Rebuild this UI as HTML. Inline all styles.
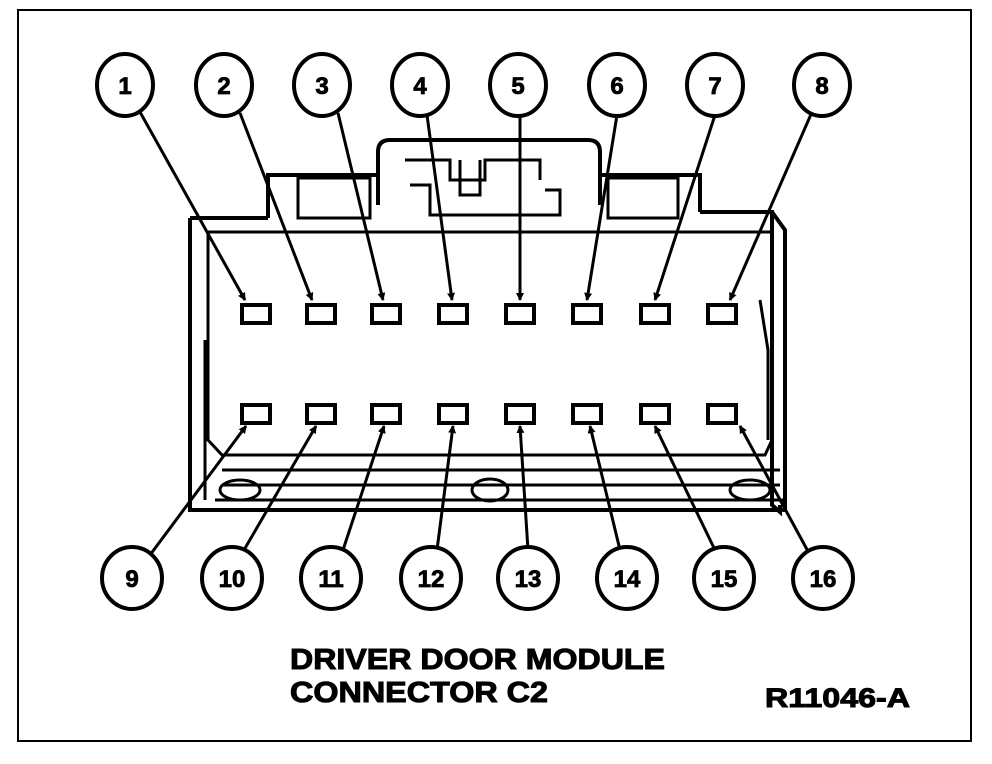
<!DOCTYPE html>
<html><head><meta charset="utf-8"><style>
html,body{margin:0;padding:0;background:#fff;}
svg{display:block;}
text{font-family:"Liberation Sans",Arial,sans-serif;font-weight:bold;fill:#000;}
</style></head><body>
<svg width="992" height="764" viewBox="0 0 992 764" xmlns="http://www.w3.org/2000/svg">
<defs><marker id="a" markerWidth="8" markerHeight="8" refX="7" refY="4" orient="auto" markerUnits="userSpaceOnUse"><path d="M0,0 L8,4 L0,8 z" fill="#000"/></marker></defs>
<rect x="18" y="10" width="953" height="731" fill="none" stroke="#000" stroke-width="2"/>
<g fill="none" stroke="#000" stroke-width="4">
<path d="M378,205 V152 Q378,140 390,140 H588 Q600,140 600,152 V205"/>
<path d="M268,218 V175 H378 M600,175 H700 V212"/>
<rect x="298" y="178" width="72" height="40" stroke-width="3"/>
<rect x="608" y="178" width="70" height="40" stroke-width="3"/>
<path d="M405,160 H450 V180 H485 V160 H540 V180" stroke-width="3"/>
<path d="M460,160 V195 H480 V160" stroke-width="3"/>
<path d="M410,185 H430 V215 H560 V190 H545" stroke-width="3"/>
<path d="M190,218 H268 M700,212 H772 V505 L780,512 V505"/>
<path d="M190,218 V510 H785 V230 L772,212"/>
<path d="M208,232 H770" stroke-width="3"/>
<path d="M208,232 V440 L222,455 H765 L772,440 V232" stroke-width="3"/>
<path d="M205,340 V500 M760,300 L768,350 V440" stroke-width="3"/>
<path d="M222,470 H780 M222,485 H780 M215,500 H785" stroke-width="3"/>
<ellipse cx="240" cy="490" rx="20" ry="10" stroke-width="3"/>
<ellipse cx="490" cy="490" rx="18" ry="11" stroke-width="3"/>
<ellipse cx="750" cy="490" rx="20" ry="10" stroke-width="3"/>
</g>
<g fill="#fff" stroke="#000" stroke-width="4">
<rect x="242" y="305" width="28" height="18"/><rect x="307" y="305" width="28" height="18"/>
<rect x="372" y="305" width="28" height="18"/><rect x="439" y="305" width="28" height="18"/>
<rect x="506" y="305" width="28" height="18"/><rect x="573" y="305" width="28" height="18"/>
<rect x="641" y="305" width="28" height="18"/><rect x="708" y="305" width="28" height="18"/>
<rect x="242" y="405" width="28" height="18"/><rect x="307" y="405" width="28" height="18"/>
<rect x="372" y="405" width="28" height="18"/><rect x="439" y="405" width="28" height="18"/>
<rect x="506" y="405" width="28" height="18"/><rect x="573" y="405" width="28" height="18"/>
<rect x="641" y="405" width="28" height="18"/><rect x="708" y="405" width="28" height="18"/>
</g>
<g stroke="#000" stroke-width="3" marker-end="url(#a)">
<line x1="140" y1="112" x2="245" y2="300"/>
<line x1="240" y1="113" x2="312" y2="300"/>
<line x1="338" y1="113" x2="383" y2="300"/>
<line x1="427" y1="115" x2="452" y2="300"/>
<line x1="520" y1="115" x2="520" y2="300"/>
<line x1="617" y1="115" x2="587" y2="300"/>
<line x1="715" y1="115" x2="655" y2="300"/>
<line x1="812" y1="112" x2="730" y2="300"/>
<line x1="150" y1="555" x2="246" y2="426"/>
<line x1="244" y1="550" x2="316" y2="426"/>
<line x1="343" y1="550" x2="384" y2="426"/>
<line x1="437" y1="550" x2="453" y2="426"/>
<line x1="528" y1="550" x2="520" y2="426"/>
<line x1="620" y1="550" x2="590" y2="426"/>
<line x1="715" y1="550" x2="655" y2="426"/>
<line x1="810" y1="555" x2="740" y2="426"/>
</g>
<g fill="#fff" stroke="#000" stroke-width="4">
<ellipse cx="125" cy="85" rx="28" ry="31"/><ellipse cx="224" cy="85" rx="28" ry="31"/>
<ellipse cx="322" cy="85" rx="28" ry="31"/><ellipse cx="420" cy="85" rx="28" ry="31"/>
<ellipse cx="518" cy="85" rx="28" ry="31"/><ellipse cx="617" cy="85" rx="28" ry="31"/>
<ellipse cx="715" cy="85" rx="28" ry="31"/><ellipse cx="822" cy="85" rx="28" ry="31"/>
<ellipse cx="132" cy="578" rx="30" ry="31"/><ellipse cx="232" cy="578" rx="30" ry="31"/>
<ellipse cx="331" cy="578" rx="30" ry="31"/><ellipse cx="431" cy="578" rx="30" ry="31"/>
<ellipse cx="528" cy="578" rx="30" ry="31"/><ellipse cx="627" cy="578" rx="30" ry="31"/>
<ellipse cx="724" cy="578" rx="30" ry="31"/><ellipse cx="823" cy="578" rx="30" ry="31"/>
</g>
<g font-size="24" text-anchor="middle" stroke="#000" stroke-width="0.8">
<text x="125" y="94">1</text><text x="224" y="94">2</text><text x="322" y="94">3</text><text x="420" y="94">4</text>
<text x="518" y="94">5</text><text x="617" y="94">6</text><text x="715" y="94">7</text><text x="822" y="94">8</text>
<text x="132" y="587">9</text><text x="232" y="587">10</text><text x="331" y="587">11</text><text x="431" y="587">12</text>
<text x="528" y="587">13</text><text x="627" y="587">14</text><text x="724" y="587">15</text><text x="823" y="587">16</text>
</g>
<g stroke="#000" stroke-width="1">
<text x="290" y="669" font-size="29" textLength="375" lengthAdjust="spacingAndGlyphs">DRIVER DOOR MODULE</text>
<text x="290" y="702" font-size="29" textLength="258" lengthAdjust="spacingAndGlyphs">CONNECTOR C2</text>
<text x="765" y="707" font-size="27" textLength="145" lengthAdjust="spacingAndGlyphs">R11046-A</text>
</g>
</svg>
</body></html>
